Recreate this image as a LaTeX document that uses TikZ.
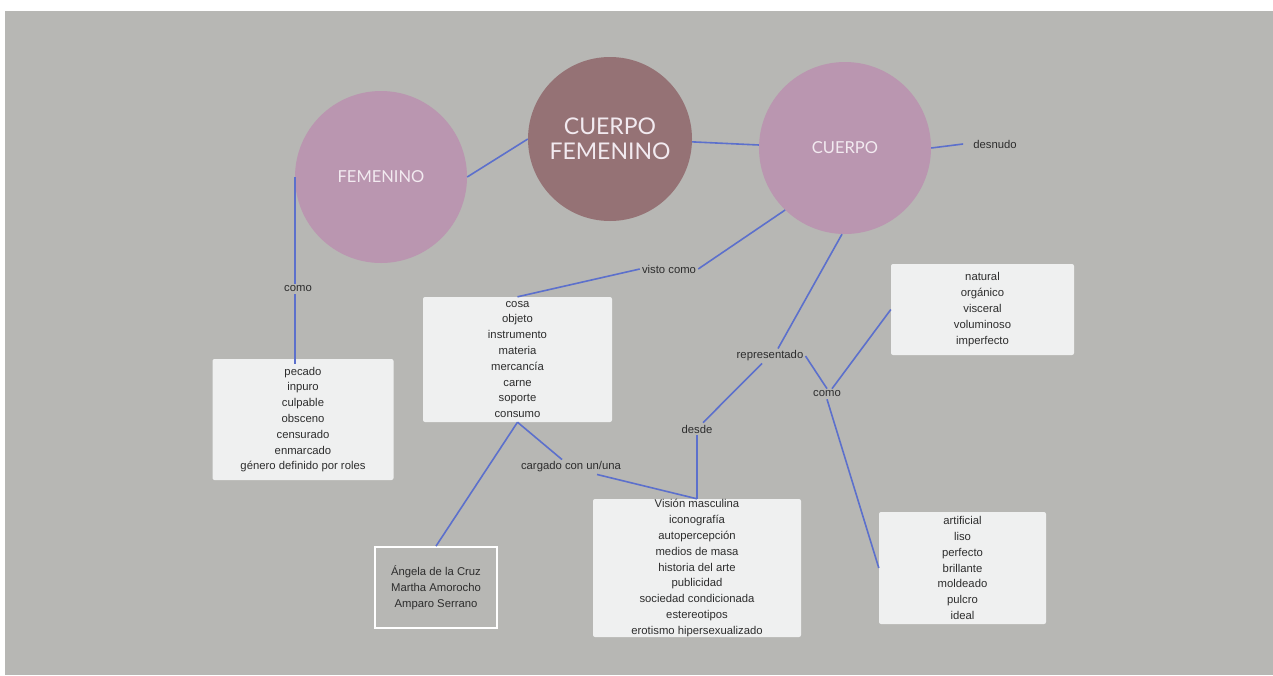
\documentclass[tikz,border=0pt]{standalone}
\usepackage{fontspec}
\setmainfont{Liberation Sans}
\newfontfamily\circfont{Lato}
\usetikzlibrary{calc}
\definecolor{bgc}{RGB}{183,183,180}
\definecolor{pinkc}{RGB}{186,150,176}
\definecolor{darkc}{RGB}{149,114,117}
\definecolor{boxc}{RGB}{239,240,240}
\definecolor{linec}{RGB}{92,112,204}
\definecolor{txtc}{RGB}{45,45,45}
\definecolor{ctxt}{RGB}{242,234,240}
\begin{document}
\begin{tikzpicture}[x=1pt,y=-1pt,
  circ/.style={circle,fill=pinkc,inner sep=0pt,text=ctxt,font=\circfont\fontsize{16.5}{20}\selectfont},
  lbl/.style={inner sep=2pt,text=txtc,font=\fontsize{11.3}{15.8}\selectfont},
  boxa/.style={rectangle,rounded corners=2pt,fill=boxc,inner sep=0pt,align=center,text=txtc,font=\fontsize{11.3}{15.8}\selectfont},
  conn/.style={draw=linec,line width=1.6pt}]
\useasboundingbox (0,0) rectangle (1273,675);
\fill[white] (0,0) rectangle (1273,675);
\fill[bgc] (5,11) rectangle (1273,675);

% circles
\node[circ,minimum size=172pt] (fem) at (381,177) {FEMENINO};
\node[circ,fill=darkc,minimum size=164pt,align=center,font=\circfont\fontsize{23}{25}\selectfont] (cf) at (610,139) {CUERPO\\FEMENINO};
\node[circ,minimum size=172pt] (cu) at (845,148) {CUERPO};

% labels
\node[lbl] (desn) at (995,144) {desnudo};
\node[lbl] (como1) at (298,289) {como};
\node[lbl] (visto) at (669,269) {visto como};
\node[lbl] (repr) at (770,356) {representado};
\node[lbl] (desde) at (697,429) {desde};
\node[lbl] (como2) at (827,394) {como};
\node[lbl] (carg) at (571,467) {cargado con un/una};

% boxes
\node[boxa,minimum width=181pt,minimum height=121pt] (b1) at (303,419.5)
  {pecado\\inpuro\\culpable\\obsceno\\censurado\\enmarcado\\género definido por roles};
\node[boxa,minimum width=189pt,minimum height=125pt] (b2) at (517.5,359.5)
  {cosa\\objeto\\instrumento\\materia\\mercancía\\carne\\soporte\\consumo};
\node[boxa,minimum width=183pt,minimum height=91pt] (b3) at (982.5,309.5)
  {natural\\orgánico\\visceral\\voluminoso\\imperfecto};
\node[boxa,minimum width=167pt,minimum height=112pt] (b4) at (962.5,568)
  {artificial\\liso\\perfecto\\brillante\\moldeado\\pulcro\\ideal};
\node[boxa,rounded corners=0pt,fill=bgc,draw=white,line width=1.8pt,minimum width=122pt,minimum height=81pt] (b5) at (436,587.5)
  {Ángela de la Cruz\\Martha Amorocho\\Amparo Serrano};
\node[boxa,minimum width=208pt,minimum height=138pt] (b6) at (697,568)
  {Visión masculina\\iconografía\\autopercepción\\medios de masa\\historia del arte\\publicidad\\sociedad condicionada\\estereotipos\\erotismo hipersexualizado};

% connectors
\draw[conn] (fem.east) -- (cf.west);
\draw[conn] (cf.-2) -- (cu.178);
\draw[conn] (cu.east) -- ($(desn.west)+(-8,0)$);
\draw[conn] (fem.west) -- (fem.west |- como1.north);
\draw[conn] (fem.west |- como1.south) -- ($(fem.west |- b1.north)+(0,5)$);
\draw[conn] (b2.north) -- (visto.west);
\draw[conn] (visto.east) -- (cu.226);
\draw[conn] (cu.268) -- ($(repr.north)+(8,0)$);
\draw[conn] ($(repr.south)+(-8,0)$) -- ($(desde.north)+(6,0)$);
\draw[conn] (desde.south) -- (b6.north -| desde.south);
\draw[conn] (repr.east) -- (como2.north);
\draw[conn] ($(como2.north)+(5,0)$) -- (b3.west);
\draw[conn] (como2.south) -- (b4.west);
\draw[conn] (b2.south) -- ($(carg.north)+(-9,0)$);
\draw[conn] ($(carg.south)+(26,0)$) -- (b6.north -| desde.south);
\draw[conn] (b2.south) -- (b5.north);
\end{tikzpicture}
\end{document}
